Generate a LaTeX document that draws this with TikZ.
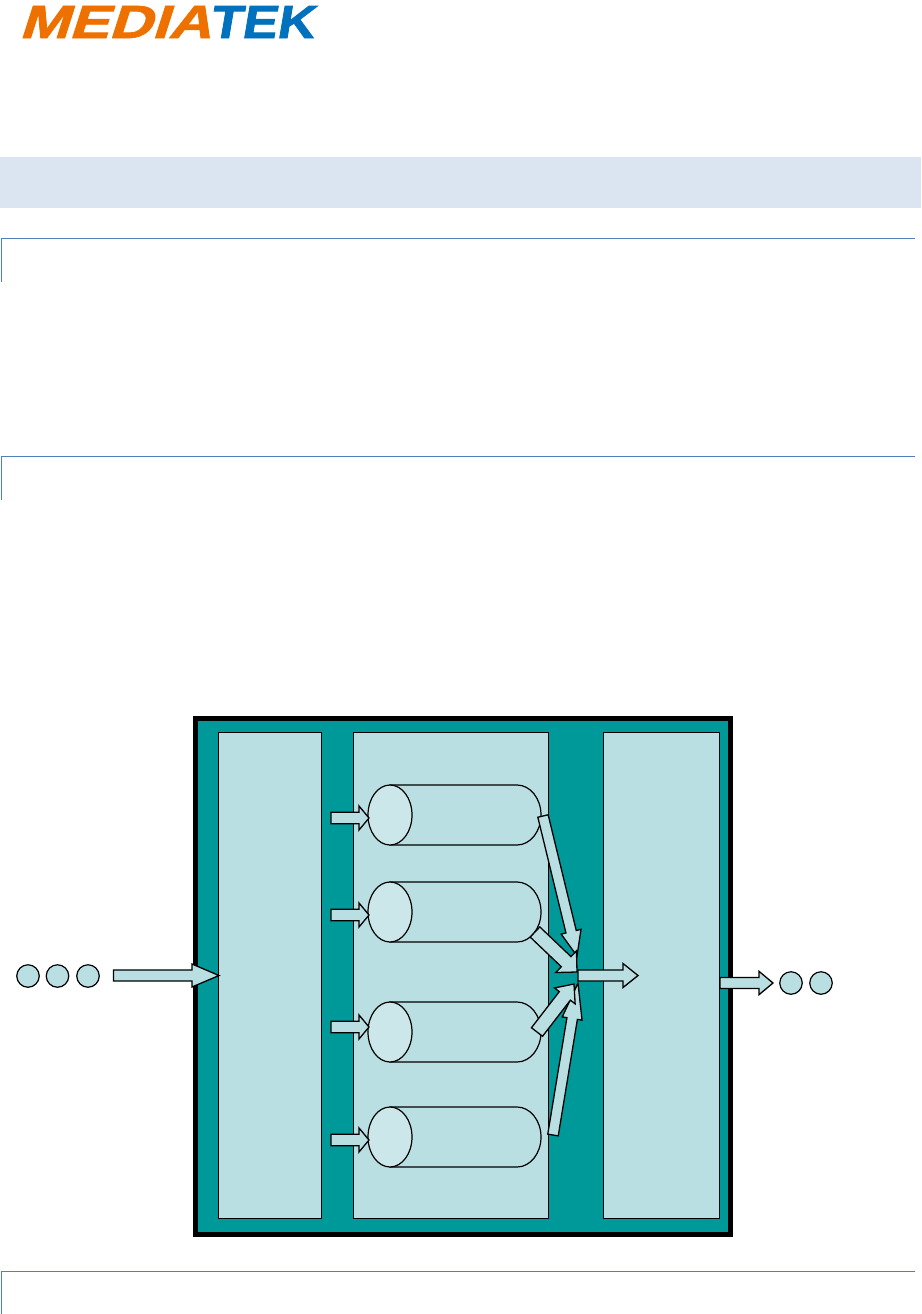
\documentclass[tikz,border=0pt]{standalone}
\usepackage{fontspec}
\usepackage{graphicx}
\setmainfont{Liberation Sans}
\usetikzlibrary{calc}
\definecolor{teal1}{HTML}{009999}
\definecolor{pale}{HTML}{B9DFE2}
\definecolor{paler}{HTML}{CBE7E9}
\definecolor{band}{HTML}{DBE5F1}
\definecolor{rule}{HTML}{4F81BD}
\definecolor{logoO}{HTML}{EE7100}
\definecolor{logoB}{HTML}{0071BC}
\tikzset{
  panel/.style={draw=black,line width=1pt,fill=pale,inner sep=0pt,outer sep=0pt},
  frame/.style={draw=black,line width=5pt,fill=teal1,inner sep=0pt,outer sep=0pt},
  dot/.style={circle,draw=black,line width=1.2pt,fill=pale,minimum size=22.5pt,inner sep=0pt},
  cylbody/.style={draw=black,line width=1.2pt,fill=pale},
  cylcap/.style={draw=black,line width=1.2pt,fill=paler},
  blockarr/.style={draw=black,line width=1.3pt,fill=pale,line join=miter},
  sectionrule/.style={draw=rule,line width=1pt},
  logotext/.style={inner sep=0pt,outer sep=0pt,anchor=west}
}
% #1 tail #2 tip #3 shaft half width #4 head half width #5 head length
\newcommand\blockarrow[5]{%
  \coordinate (hb) at ($(#2)!#5pt!(#1)$);
  \draw[blockarr] ($(#1)!#3pt!90:(#2)$) -- ($(hb)!#3pt!90:(#2)$) -- ($(hb)!#4pt!90:(#2)$) -- (#2)
    -- ($(hb)!#4pt!-90:(#2)$) -- ($(hb)!#3pt!-90:(#2)$) -- ($(#1)!#3pt!-90:(#2)$) -- cycle;
}
% #1 name #2 centre y
\newcommand\cylinderat[2]{%
  \coordinate (#1) at (390,#2);
  \draw[cylbody] (390,#2-30) -- (517,#2-30) arc[start angle=-90,end angle=90,x radius=24,y radius=30] -- (390,#2+30) -- cycle;
  \draw[cylcap] (390,#2) ellipse[x radius=22,y radius=30];
}
\begin{document}
\begin{tikzpicture}[x=1pt,y=-1pt]
\useasboundingbox (0,0) rectangle (921,1314);
% logo
\node[logotext] (logoa) at (19,22) {\resizebox{192pt}{32pt}{\addfontfeatures{FakeBold=1.5,FakeSlant=0.25}\bfseries\color{logoO}MEDIA}};
\node[logotext] (logob) at (209,22) {\resizebox{105pt}{32pt}{\addfontfeatures{FakeBold=1.5,FakeSlant=0.15}\bfseries\color{logoB}TEK}};
% header band and section rules
\fill[band] (0,157) rectangle (921,208);
\draw[sectionrule] (1,282) -- (1,238) -- (915,238);
\draw[sectionrule] (1,500) -- (1,456) -- (915,456);
\draw[sectionrule] (1,1314) -- (1,1271) -- (915,1271);
% frame and panels
\node[frame,minimum width=535pt,minimum height=516pt] (frame) at (463,976.5) {};
\node[panel,minimum width=103.5pt,minimum height=486.5pt] (left) at (270,975.5) {};
\node[panel,minimum width=195.5pt,minimum height=486.5pt] (mid) at (451,975.5) {};
\node[panel,minimum width=116.5pt,minimum height=486.5pt] (right) at (661.5,975.5) {};
% cylinders
\cylinderat{cyla}{815}
\cylinderat{cylb}{912}
\cylinderat{cylc}{1032}
\cylinderat{cyld}{1137}
% input and output dots
\node[dot] (i1) at (28,976) {};
\node[dot] (i2) at (57.5,976) {};
\node[dot] (i3) at (88,976) {};
\node[dot] (o1) at (791,983) {};
\node[dot] (o2) at (821,983) {};
% free ends
\coordinate (inT) at (113.5,975.5); \coordinate (inH) at (219,975.5);
\coordinate (outT) at (720,983); \coordinate (outH) at (773,983);
\coordinate (q1) at (331,818); \coordinate (q1h) at (369,818);
\coordinate (q2) at (331,915); \coordinate (q2h) at (369,915);
\coordinate (q3) at (331,1027); \coordinate (q3h) at (369,1027);
\coordinate (q4) at (331,1140); \coordinate (q4h) at (369,1140);
\coordinate (aT) at (543,816); \coordinate (aH) at (577,956);
\coordinate (bT) at (535,932); \coordinate (bH) at (577,972);
\coordinate (cT) at (537,1032); \coordinate (cH) at (574,984);
\coordinate (dT) at (553,1135); \coordinate (dH) at (578,983);
\coordinate (mT) at (578,975.5); \coordinate (mH) at (638,975.5);
% arrows
\blockarrow{inT}{inH}{5.5}{11.5}{27}
\blockarrow{outT}{outH}{5.5}{11.7}{14}
\blockarrow{q1}{q1h}{5.7}{12}{10}
\blockarrow{q2}{q2h}{5.7}{12}{10}
\blockarrow{q3}{q3h}{5.7}{12}{10}
\blockarrow{q4}{q4h}{5.7}{12}{10}
\blockarrow{mT}{mH}{5.5}{12}{15}
\blockarrow{dT}{dH}{5.3}{10}{36}
\blockarrow{cT}{cH}{7}{13}{15}
\blockarrow{aT}{aH}{5.3}{10.2}{25}
\blockarrow{bT}{bH}{7}{15}{15}
\end{tikzpicture}
\end{document}
